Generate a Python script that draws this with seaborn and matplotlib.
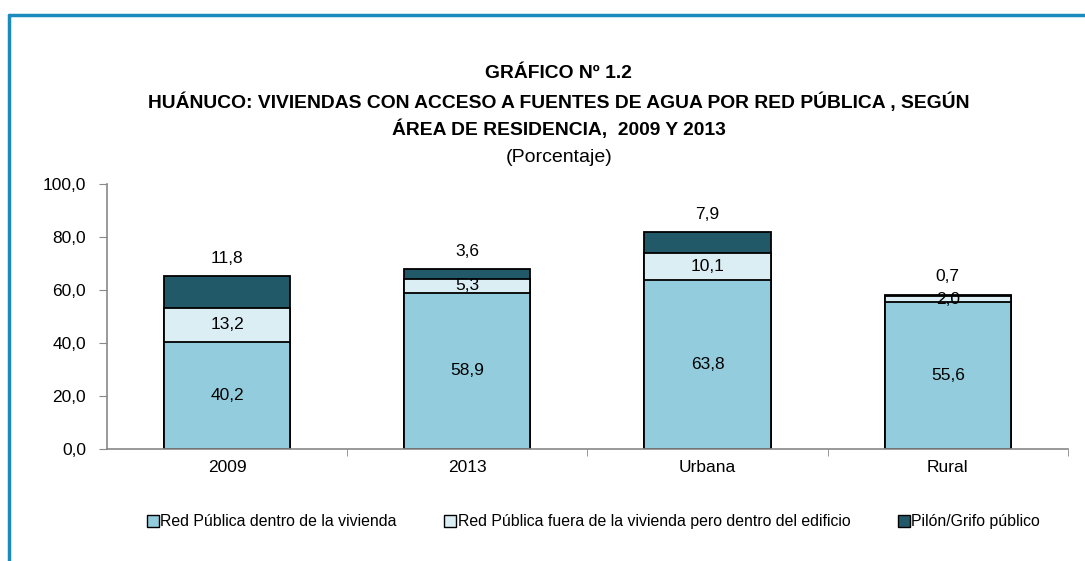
import matplotlib
matplotlib.use("Agg")
import matplotlib.pyplot as plt
import numpy as np
import pandas as pd
import seaborn as sns
from matplotlib.patches import Patch

categories = ["2009", "2013", "Urbana", "Rural"]
dentro = [40.2, 58.9, 63.8, 55.6]
fuera = [13.2, 5.3, 10.1, 2.0]
pilon = [11.8, 3.6, 7.9, 0.7]
series_names = [
    "Red Pública dentro de la vivienda",
    "Red Pública fuera de la vivienda pero dentro del edificio",
    "Pilón/Grifo público",
]
colors = ["#93CDDD", "#DBEEF4", "#215968"]


def fmt(v):
    return f"{v:.1f}".replace(".", ",")


def main():
    sns.set_style("white", {"text.color": "black", "xtick.color": "black",
                            "ytick.color": "black"})
    plt.rcParams["font.family"] = ["Liberation Sans Narrow", "Liberation Sans", "DejaVu Sans"]

    df = pd.DataFrame({
        "cat": categories,
        "dentro": dentro,
        "fuera": fuera,
        "pilon": pilon,
    })
    df["c1"] = df["dentro"]
    df["c2"] = df["dentro"] + df["fuera"]
    df["c3"] = df["c2"] + df["pilon"]

    fig = plt.figure(figsize=(10.85, 5.61), dpi=100)
    ax = fig.add_axes([0.0986, 0.1996, 0.8856, 0.4724])

    # draw totals first, then overdraw lower segments
    for col, color in zip(["c3", "c2", "c1"], colors[::-1]):
        sns.barplot(data=df, x="cat", y=col, color=color, width=0.525,
                    edgecolor="black", linewidth=1.3, saturation=1, ax=ax)

    for i in range(len(categories)):
        ax.text(i, dentro[i] / 2, fmt(dentro[i]), ha="center", va="center", fontsize=12.5)
        ax.text(i, dentro[i] + fuera[i] / 2, fmt(fuera[i]), ha="center", va="center", fontsize=12.5)
        ax.text(i, df["c3"][i] + 3.8, fmt(pilon[i]), ha="center", va="bottom", fontsize=12.5)

    ax.set_ylim(0, 100)
    ax.set_xlim(-0.5, 3.5)
    ax.set_yticks(np.arange(0, 101, 20))
    ax.set_yticklabels([fmt(v) for v in np.arange(0, 101, 20)], fontsize=12.5)
    ax.set_xticks(range(len(categories)))
    ax.set_xticklabels(categories, fontsize=12.5)
    ax.set_xticks([0.5, 1.5, 2.5, 3.5], minor=True)
    ax.tick_params(axis="x", which="major", length=0, pad=8, labelcolor="black")
    ax.tick_params(axis="x", which="minor", length=5, color="#888888", bottom=True)
    ax.tick_params(axis="y", length=6, color="#888888", left=True, pad=9, labelcolor="black")
    ax.set_xlabel("")
    ax.set_ylabel("")
    for side in ["top", "right"]:
        ax.spines[side].set_visible(False)
    for side in ["left", "bottom"]:
        ax.spines[side].set_color("#888888")
        ax.spines[side].set_linewidth(1.2)

    handles = [Patch(facecolor=c, edgecolor="black", linewidth=1) for c in colors]
    fig.legend(handles, series_names, loc="center", bbox_to_anchor=(0.547, 0.070),
               ncol=3, frameon=False, fontsize=11.4, handlelength=0.75, handleheight=0.75,
               handletextpad=0.1, columnspacing=3.0)

    cx = 0.515
    fig.text(cx, 1 - 73 / 561, "GRÁFICO Nº 1.2", ha="center", va="center",
             fontsize=13.9, fontweight="bold")
    fig.text(cx, 1 - 102 / 561,
             "HUÁNUCO: VIVIENDAS CON ACCESO A FUENTES DE AGUA POR RED PÚBLICA , SEGÚN",
             ha="center", va="center", fontsize=13.9, fontweight="bold")
    fig.text(cx, 1 - 129 / 561, "ÁREA DE RESIDENCIA,  2009 Y 2013", ha="center",
             va="center", fontsize=13.9, fontweight="bold")
    fig.text(cx, 1 - 158 / 561, "(Porcentaje)", ha="center", va="center", fontsize=14)

    # blue frame on top and left edges
    fig.add_artist(plt.Line2D([8.5 / 1085, 1], [1 - 15 / 561, 1 - 15 / 561],
                              color="#1B8BBE", linewidth=2.5, transform=fig.transFigure))
    fig.add_artist(plt.Line2D([8.5 / 1085, 8.5 / 1085], [0, 1 - 15 / 561],
                              color="#1B8BBE", linewidth=2.5, transform=fig.transFigure))

    fig.savefig("out.png", dpi=100)
    plt.close(fig)


if __name__ == "__main__":
    main()
